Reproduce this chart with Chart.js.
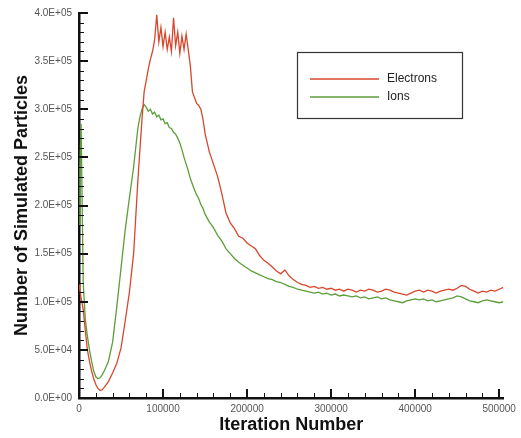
<!DOCTYPE html>
<html>
<head>
<meta charset="utf-8">
<script src="https://cdn.jsdelivr.net/npm/chart.js@4.4.1/dist/chart.umd.min.js"></script>
<style>
  html, body { margin: 0; padding: 0; background: #ffffff; }
  #wrap { width: 521px; height: 438px; }
</style>
</head>
<body>
<div id="wrap"><canvas id="c" width="521" height="438"></canvas></div>
<script>
// ---- data ----
const seriesNames = ['Electrons', 'Ions'];
const iterations = [
  0, 1000, 2500, 5000, 7500, 10000, 12500, 15000, 17500, 20000, 22500, 25000, 27500, 30000,
  35000, 40000, 45000, 50000, 55000, 60000, 65000, 70000,
  72500, 75000, 77500, 80000, 82500, 85000, 87500, 90000, 92500, 95000, 97500, 100000,
  102500, 105000, 107500, 110000, 112500, 115000, 117500, 120000, 122500, 125000, 127500, 130000,
  132500, 135000, 137500, 140000, 142500, 145000, 147500, 150000,
  155000, 160000, 165000, 170000, 175000, 180000, 185000, 190000, 195000, 200000,
  205000, 210000, 215000, 220000, 225000, 230000, 235000, 240000, 245000, 250000,
  255000, 260000, 265000, 270000, 275000, 280000, 285000, 290000, 295000, 300000,
  305000, 310000, 315000, 320000, 325000, 330000, 335000, 340000, 345000, 350000,
  355000, 360000, 365000, 370000, 375000, 380000, 385000, 390000, 395000, 400000,
  405000, 410000, 415000, 420000, 425000, 430000, 435000, 440000, 445000, 450000,
  455000, 460000, 465000, 470000, 475000, 480000, 485000, 490000, 495000, 500000,
  505000
];
const electrons = [
  118000, 112000, 104000, 92000, 70000, 50000, 38000, 28000, 20000, 14000, 10000, 8000, 8500, 11000,
  17000, 26000, 36000, 52000, 80000, 110000, 150000, 225000,
  258000, 290000, 318000, 330000, 342000, 352000, 360000, 372000, 398000, 370000, 385000, 365000,
  380000, 362000, 375000, 360000, 395000, 366000, 380000, 358000, 376000, 362000, 378000, 362000,
  345000, 318000, 312000, 306000, 304000, 300000, 290000, 275000,
  256000, 243000, 230000, 212000, 192000, 182000, 176000, 168000, 166000, 161000,
  158000, 155000, 148000, 143000, 140000, 136000, 132000, 129000, 133000, 127000,
  123000, 120000, 118000, 117000, 115000, 116000, 114000, 115000, 113000, 114000,
  112000, 113000, 111000, 113000, 112000, 110000, 112000, 111000, 113000, 112000,
  110000, 111000, 113000, 112000, 110000, 109000, 108000, 107000, 109000, 111000,
  112000, 110000, 112000, 111000, 109000, 111000, 112000, 113000, 112000, 114000,
  117000, 116000, 113000, 111000, 109000, 111000, 110000, 112000, 111000, 113000,
  115000
];
const ions = [
  180000, 240000, 285000, 120000, 82000, 64000, 50000, 38000, 28000, 22000, 20000, 21000, 24000, 28000,
  38000, 58000, 95000, 135000, 175000, 208000, 240000, 280000,
  292000, 300000, 305000, 302000, 298000, 300000, 295000, 297000, 292000, 294000, 289000, 290000,
  285000, 286000, 281000, 280000, 276000, 274000, 270000, 265000, 258000, 250000, 243000, 236000,
  228000, 222000, 216000, 211000, 207000, 201000, 197000, 191000,
  183000, 177000, 169000, 163000, 155000, 150000, 145000, 141000, 138000, 135000,
  132000, 130000, 128000, 126000, 124000, 123000, 121000, 120000, 118000, 116000,
  115000, 113000, 112000, 111000, 110000, 109000, 110000, 108000, 109000, 107000,
  108000, 106000, 107000, 106000, 105000, 106000, 104000, 105000, 103000, 104000,
  105000, 103000, 104000, 102000, 101000, 100000, 99000, 101000, 102000, 103000,
  102000, 103000, 101000, 102000, 100000, 101000, 102000, 103000, 104000, 106000,
  105000, 103000, 101000, 100000, 99000, 101000, 102000, 101000, 100000, 99000,
  100000
];
const xTickValues = [0, 100000, 200000, 300000, 400000, 500000];
const yTickValues = [0, 50000, 100000, 150000, 200000, 250000, 300000, 350000, 400000];
const xMinorStep = 20000;
const yMinorStep = 10000;
const xTitle = 'Iteration Number';
const yTitle = 'Number of Simulated Particles';

// ---- styles ----
const seriesColors = ['#d8472b', '#5c9e3a'];
const FONT = '"Liberation Sans", Arial, Helvetica, sans-serif';

function sciLabel(v) {
  const parts = Number(v).toExponential(1).split('e');
  let e = parseInt(parts[1], 10);
  const sign = e < 0 ? '-' : '+';
  e = Math.abs(e);
  return parts[0] + 'E' + sign + (e < 10 ? '0' + e : String(e));
}

const inwardTicks = {
  id: 'inwardTicks',
  afterDatasetsDraw(chart) {
    const ctx = chart.ctx;
    const xs = chart.scales.x, ys = chart.scales.y;
    const left = chart.chartArea.left, bottom = chart.chartArea.bottom;
    ctx.save();
    ctx.strokeStyle = '#111';
    ctx.lineWidth = 1;
    for (let v = 0; v <= xTickValues[xTickValues.length - 1]; v += xMinorStep) {
      if (xTickValues.includes(v)) continue;
      const px = Math.round(xs.getPixelForValue(v)) + 0.5;
      ctx.beginPath(); ctx.moveTo(px, bottom); ctx.lineTo(px, bottom - 5); ctx.stroke();
    }
    for (let v = 0; v <= yTickValues[yTickValues.length - 1]; v += yMinorStep) {
      if (yTickValues.includes(v)) continue;
      const py = Math.round(ys.getPixelForValue(v)) + 0.5;
      ctx.beginPath(); ctx.moveTo(left, py); ctx.lineTo(left + 5, py); ctx.stroke();
    }
    ctx.lineWidth = 2;
    xTickValues.forEach(v => {
      const px = Math.round(xs.getPixelForValue(v));
      ctx.beginPath(); ctx.moveTo(px, bottom); ctx.lineTo(px, bottom - 9); ctx.stroke();
    });
    yTickValues.forEach(v => {
      const py = Math.round(ys.getPixelForValue(v));
      ctx.beginPath(); ctx.moveTo(left, py); ctx.lineTo(left + 9, py); ctx.stroke();
    });
    ctx.restore();
  }
};

const boxLegend = {
  id: 'boxLegend',
  afterDraw(chart) {
    const ctx = chart.ctx;
    const bx = 297.5, by = 52.5, bw = 165, bh = 66;
    ctx.save();
    ctx.fillStyle = '#ffffff';
    ctx.fillRect(bx, by, bw, bh);
    ctx.strokeStyle = '#333';
    ctx.lineWidth = 1.2;
    ctx.strokeRect(bx, by, bw, bh);
    ctx.font = '12px ' + FONT;
    ctx.textBaseline = 'middle';
    ctx.textAlign = 'left';
    chart.data.datasets.forEach((ds, i) => {
      const y = 79 + i * 18;
      ctx.strokeStyle = seriesColors[i];
      ctx.lineWidth = 1.5;
      ctx.beginPath(); ctx.moveTo(310, y); ctx.lineTo(379, y); ctx.stroke();
      ctx.fillStyle = '#222';
      ctx.fillText(ds.label, 387, y);
    });
    ctx.restore();
  }
};

new Chart(document.getElementById('c'), {
  type: 'line',
  data: {
    datasets: [electrons, ions].map((arr, i) => ({
      label: seriesNames[i],
      data: iterations.map((x, j) => ({ x: x, y: arr[j] })),
      borderColor: seriesColors[i],
      backgroundColor: seriesColors[i],
      borderWidth: 1.3,
      pointRadius: 0,
      tension: 0,
      fill: false
    }))
  },
  options: {
    responsive: false,
    animation: false,
    layout: { padding: { top: 9, right: 15, left: 0, bottom: 0 } },
    plugins: { legend: { display: false }, tooltip: { enabled: false } },
    scales: {
      x: {
        type: 'linear',
        min: 0,
        max: 505000,
        afterBuildTicks: s => { s.ticks = xTickValues.map(v => ({ value: v })); },
        afterFit: s => { s.height = 40; },
        grid: { display: false, drawTicks: false },
        border: { display: true, color: '#111', width: 2.5 },
        ticks: {
          padding: 5,
          maxRotation: 0,
          autoSkip: false,
          color: '#555',
          font: { family: FONT, size: 10 },
          callback: v => String(v)
        },
        title: {
          display: true,
          text: xTitle,
          color: '#111',
          font: { family: FONT, size: 18, weight: 'bold' },
          padding: { top: 0, bottom: 2 }
        }
      },
      y: {
        type: 'linear',
        min: 0,
        max: 400000,
        afterBuildTicks: s => { s.ticks = yTickValues.map(v => ({ value: v })); },
        afterFit: s => { s.width = 79; },
        grid: { display: false, drawTicks: false },
        border: { display: true, color: '#111', width: 2.5 },
        ticks: {
          padding: 7,
          autoSkip: false,
          color: '#555',
          font: { family: FONT, size: 10 },
          callback: v => sciLabel(v)
        },
        title: {
          display: true,
          text: yTitle,
          color: '#111',
          font: { family: FONT, size: 18, weight: 'bold' },
          padding: { top: 11, bottom: 0 }
        }
      }
    }
  },
  plugins: [inwardTicks, boxLegend]
});
</script>
</body>
</html>
